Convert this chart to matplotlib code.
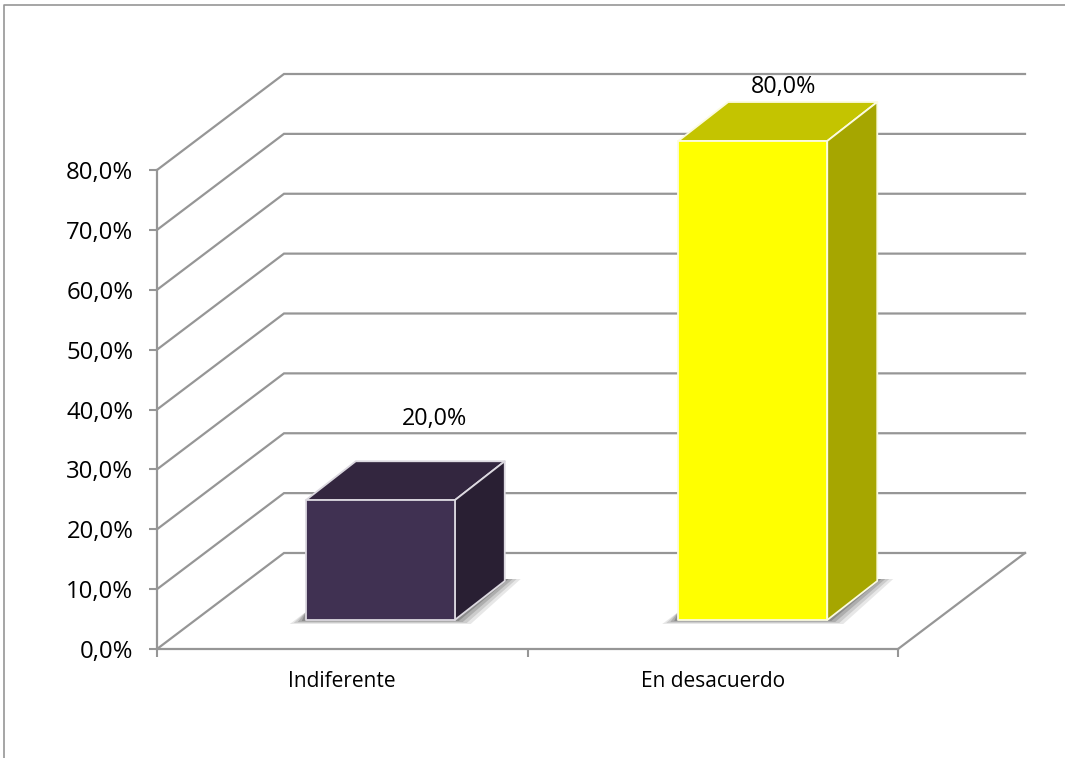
#!/usr/bin/env python3
# -*- coding: utf-8 -*-
import matplotlib
matplotlib.use('Agg')
import matplotlib.pyplot as plt
from matplotlib.lines import Line2D
from matplotlib.patches import Polygon

categories = ['Indiferente', 'En desacuerdo']
values = [20.0, 80.0]
y_ticks = [0, 10, 20, 30, 40, 50, 60, 70, 80]

front_colors = ['#403152', '#ffff00']
top_colors = ['#33263f', '#c4c400']
side_colors = ['#291f33', '#a6a600']
edge_colors = ['#dcd9e0', '#fbfbe0']
label_offsets = [(54, 81), (31, 54)]  # px from front top centre of the bar
bar_shift = [38, 40]  # px from the category centre

W, H = 1065, 758
LEFT, RIGHT, BOTTOM, TOP = 157, 898, 649, 170
GREY = '#969696'

plt.rcParams['font.family'] = ['Open Sans', 'DejaVu Sans']

fig = plt.figure(figsize=(W / 100, H / 100), dpi=100)
ax = fig.add_axes([LEFT / W, 1 - BOTTOM / H, (RIGHT - LEFT) / W, (BOTTOM - TOP) / H])
ax.set_xlim(0, 2)
ax.set_ylim(0, 80)
ax.patch.set_alpha(0)

# size of one pixel and of the full depth, in data units
px_x = 2 / (RIGHT - LEFT)
px_y = 80 / (BOTTOM - TOP)
depth_x = 127 * px_x
depth_y = 96 * px_y

# outer frame of the chart area
fig.add_artist(Line2D([4.5 / W, 4.5 / W, 1], [0, 1 - 4.5 / H, 1 - 4.5 / H],
                      color=GREY, lw=1.2))

# wall and floor lines
for y in y_ticks:
    ax.plot([0, depth_x, 2 + depth_x], [y, y + depth_y, y + depth_y],
            color=GREY, lw=1.6, clip_on=False, zorder=1, solid_joinstyle='miter')
ax.plot([2, 2 + depth_x], [0, depth_y], color=GREY, lw=1.6, clip_on=False, zorder=1)


def draw_bar(i, value):
    w = 149 * px_x
    d_x, d_y = 50 * px_x, 39 * px_y
    x0 = i + 0.5 + bar_shift[i] * px_x - w / 2
    x1 = x0 + w
    y0 = 29 * px_y
    y1 = y0 + value

    # soft shadow on the floor, built from a few see-through layers
    for grow, alpha in [(16, 0.12), (12, 0.16), (8, 0.22), (4, 0.30)]:
        low = grow / 4 * px_y
        shadow = [(x0 - grow * px_x, y0 - low),
                  (x1 + grow * px_x, y0 - low),
                  (x1 + d_x + grow * px_x, y0 + d_y + 2 * px_y),
                  (x1 + d_x, y0 + d_y + 2 * px_y),
                  (x1, y0 + 8 * px_y),
                  (x0, y0 + 8 * px_y)]
        ax.add_patch(Polygon(shadow, closed=True, facecolor='#404040', edgecolor='none',
                             alpha=alpha, clip_on=False, zorder=2))

    style = dict(closed=True, edgecolor=edge_colors[i], lw=1.3, clip_on=False, zorder=3,
                 joinstyle='round')
    ax.add_patch(Polygon([(x0, y1), (x1, y1), (x1 + d_x, y1 + d_y), (x0 + d_x, y1 + d_y)],
                         facecolor=top_colors[i], **style))
    ax.add_patch(Polygon([(x1, y0), (x1 + d_x, y0 + d_y), (x1 + d_x, y1 + d_y), (x1, y1)],
                         facecolor=side_colors[i], **style))
    ax.add_patch(Polygon([(x0, y0), (x1, y0), (x1, y1), (x0, y1)],
                         facecolor=front_colors[i], **style))

    ax.annotate(f'{value:.1f}%'.replace('.', ','), xy=((x0 + x1) / 2, y1),
                xytext=label_offsets[i], textcoords='offset pixels',
                ha='center', va='center', fontsize=16.8, color='black',
                annotation_clip=False, zorder=4)


for i, v in enumerate(values):
    draw_bar(i, v)

for side in ['top', 'right']:
    ax.spines[side].set_visible(False)
for side in ['left', 'bottom']:
    ax.spines[side].set_color(GREY)
    ax.spines[side].set_linewidth(1.6)
    ax.spines[side].set_zorder(1)

ax.set_yticks(y_ticks)
ax.set_yticklabels([f'{y:.1f}%'.replace('.', ',') for y in y_ticks], fontsize=17.2)
ax.tick_params(axis='y', length=6, width=1.5, color=GREY, pad=11, labelcolor='black')

ax.set_xticks([0, 1, 2])
ax.set_xticklabels([])
ax.set_xticks([0.5, 1.5], minor=True)
ax.set_xticklabels(categories, minor=True, fontsize=15, color='black')
ax.tick_params(axis='x', which='major', length=6, width=1.5, color=GREY)
ax.tick_params(axis='x', which='minor', length=0, pad=16)

fig.savefig('out.png', dpi=100)
